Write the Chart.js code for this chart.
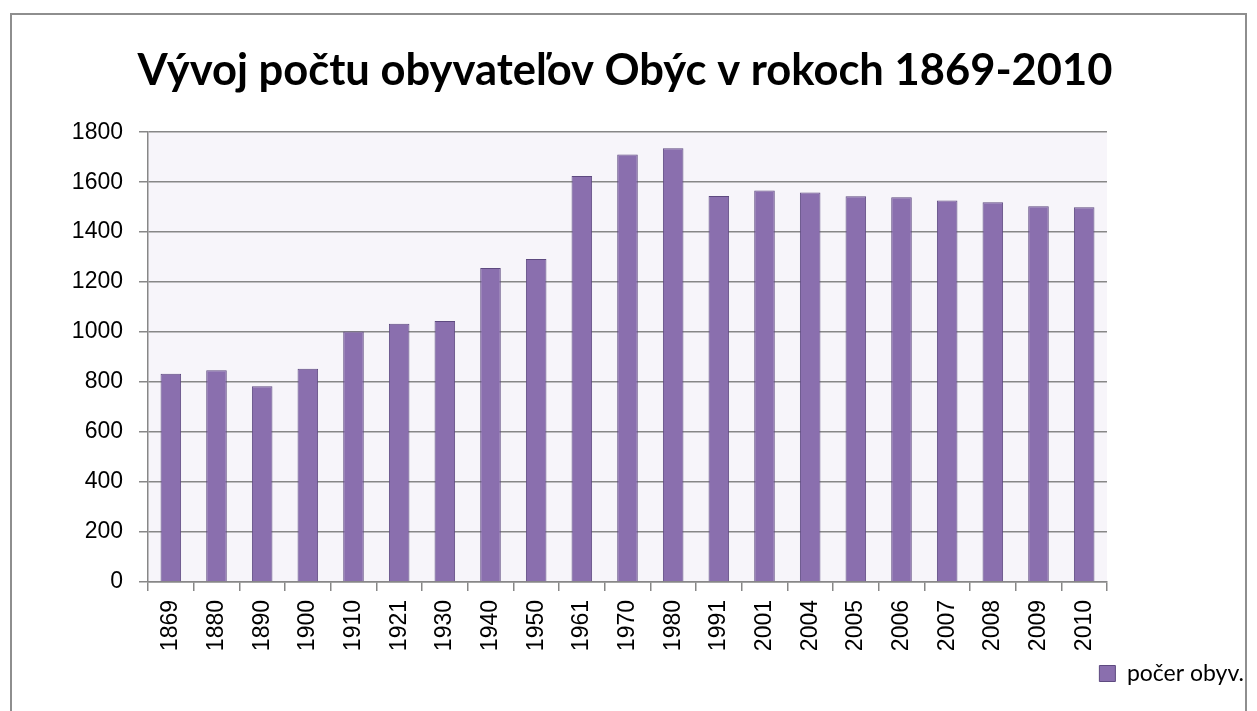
<!DOCTYPE html>
<html>
<head>
<meta charset="utf-8">
<title>Vývoj počtu obyvateľov Obýc</title>
<script src="https://cdn.jsdelivr.net/npm/chart.js@4.4.1/dist/chart.umd.min.js"></script>
<style>
  body { margin: 0; background: #fff; overflow: hidden; }
  .frame {
    position: absolute; left: 10px; top: 13px;
    width: 1233px; height: 720px;
    border: 2px solid #8e8e8e; border-bottom: none;
  }
  .chart__container { position: absolute; left: 0; top: 0; width: 1257px; height: 711px; }
</style>
</head>
<body>
<div class="frame"></div>
<div class="chart__container"><canvas id="populationChart" width="1257" height="711"></canvas></div>
<script>
// roky scitania
const years = ['1869', '1880', '1890', '1900', '1910', '1921', '1930', '1940', '1950', '1961',
  '1970', '1980', '1991', '2001', '2004', '2005', '2006', '2007', '2008', '2009', '2010'];
// pocet obyvatelov
const population = [833, 847, 783, 853, 1002, 1033, 1044, 1257, 1293, 1625,
  1711, 1736, 1545, 1567, 1559, 1544, 1540, 1527, 1520, 1504, 1500];
const yTicks = [0, 200, 400, 600, 800, 1000, 1200, 1400, 1600, 1800];
const seriesName = 'počer obyv.';
const chartTitle = 'Vývoj počtu obyvateľov Obýc v rokoch 1869-2010';

const gridColor = '#878787';

// light lavender plot background
const plotBackground = {
  id: 'plotBackground',
  beforeDraw(chart) {
    const { ctx, chartArea } = chart;
    ctx.save();
    ctx.fillStyle = '#f7f5fa';
    ctx.fillRect(chartArea.left, chartArea.top, chartArea.right - chartArea.left, chartArea.bottom - chartArea.top);
    ctx.restore();
  }
};

document.addEventListener('DOMContentLoaded', function () {
  const ctx = document.getElementById('populationChart').getContext('2d');
  new Chart(ctx, {
    type: 'bar',
    data: {
      labels: years,
      datasets: [{
        label: seriesName,
        data: population,
        backgroundColor: '#8a6fae',
        borderColor: '#5e4a80',
        borderWidth: 1,
        categoryPercentage: 1,
        barPercentage: 0.45,
        yAxisID: 'y'
      }]
    },
    options: {
      responsive: false,
      animation: false,
      layout: { padding: { left: 0, right: 7, top: 0, bottom: 16 } },
      plugins: {
        title: {
          display: true,
          text: chartTitle,
          color: '#000',
          font: { family: 'Lato', size: 43.5, weight: 'bold' },
          padding: { top: 45, bottom: 35 }
        },
        legend: {
          display: true,
          position: 'bottom',
          align: 'end',
          labels: {
            color: '#000',
            font: { family: 'Lato', size: 23 },
            boxWidth: 16,
            boxHeight: 16,
            padding: 6
          }
        },
        tooltip: { enabled: false }
      },
      scales: {
        x: {
          grid: { drawOnChartArea: false, drawTicks: true, tickLength: 9, color: gridColor, lineWidth: 1.5 },
          border: { color: gridColor, width: 1.5 },
          ticks: {
            color: '#000',
            font: { family: 'Liberation Sans', size: 23 },
            minRotation: 90, maxRotation: 90,
            padding: 9
          },
          afterFit(scale) { scale.height = 74; }
        },
        y: {
          min: 0, max: 1800,
          afterBuildTicks(scale) { scale.ticks = yTicks.map(v => ({ value: v })); },
          grid: { color: gridColor, lineWidth: 1.5, tickLength: 9 },
          border: { color: gridColor, width: 1.5 },
          ticks: {
            color: '#000',
            font: { family: 'Liberation Sans', size: 23 },
            padding: 16,
            callback: value => String(value)
          },
          afterFit(scale) { scale.width = 148; }
        },
        yRight: {
          position: 'right',
          display: true,
          grid: { display: false },
          border: { display: false },
          ticks: { display: false },
          afterFit(scale) { scale.width = 143; }
        }
      }
    },
    plugins: [plotBackground]
  });
});
</script>
</body>
</html>
